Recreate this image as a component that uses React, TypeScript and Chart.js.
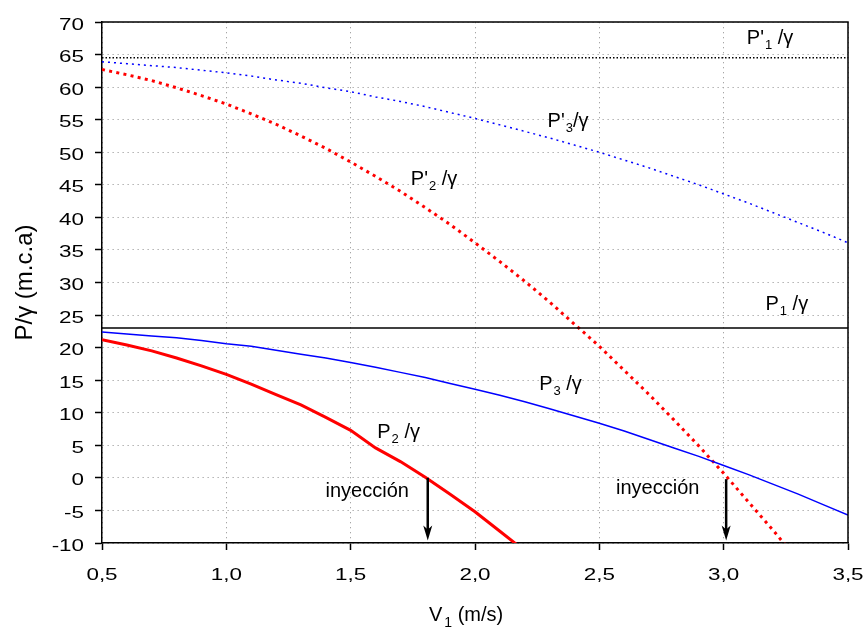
import { useEffect, useRef } from "react";
import { Chart, registerables } from "chart.js";

Chart.register(...registerables);

// Velocity V1 (m/s)
const V = [0.5, 0.6, 0.7, 0.8, 0.9, 1.0, 1.1, 1.2, 1.3, 1.4, 1.5, 1.6, 1.7, 1.8, 1.9, 2.0, 2.1, 2.2, 2.3, 2.4, 2.5, 2.6, 2.7, 2.8, 2.9, 3.0, 3.1, 3.2, 3.3, 3.4, 3.5];

// P3/γ (solid blue)
const P3 = [22.4, 22.1, 21.8, 21.5, 21.1, 20.6, 20.2, 19.6, 19.0, 18.4, 17.7, 17.0, 16.2, 15.4, 14.5, 13.6, 12.7, 11.7, 10.6, 9.5, 8.4, 7.2, 5.9, 4.6, 3.3, 1.9, 0.5, -1.0, -2.5, -4.1, -5.7];
// P'3/γ (dotted blue)
const P3_PRIME = [63.9, 63.6, 63.3, 63.0, 62.6, 62.2, 61.7, 61.1, 60.6, 59.9, 59.3, 58.5, 57.8, 57.0, 56.1, 55.2, 54.2, 53.2, 52.2, 51.1, 50.0, 48.8, 47.6, 46.3, 45.0, 43.6, 42.2, 40.7, 39.2, 37.7, 36.1];
// P'2/γ (dotted red)
const P2_PRIME = [62.7, 61.9, 61.0, 59.9, 58.7, 57.4, 55.9, 54.3, 52.5, 50.6, 48.5, 46.3, 44.0, 41.5, 38.9, 36.1, 33.2, 30.2, 27.0, 23.6, 20.2, 16.5, 12.8, 8.9, 4.9, 0.7, -3.7, -8.1, -12.7, null, null];
// P2/γ (solid red)
const P2 = [21.2, 20.4, 19.5, 18.4, 17.2, 15.9, 14.4, 12.8, 11.2, 9.3, 7.3, 4.6, 2.5, 0.1, -2.5, -5.2, -8.2, -11.2, null, null, null, null, null, null, null, null, null, null, null, null, null];

// Horizontal lines
const X_ENDS = [0.5, 3.5];
const P1 = [23, 23];
const P1_PRIME = [64.5, 64.5];

// Axis ranges
const X_MIN = 0.5, X_MAX = 3.5, X_STEP = 0.5;
const Y_MIN = -10, Y_MAX = 70, Y_STEP = 5;

// Curve labels (anchor in data coordinates: left edge, baseline)
const LABELS = [
  { main: "P'", sub: "1", tail: " /γ", x: 3.093, y: 66.65 },
  { main: "P'", sub: "3", tail: "/γ", x: 2.292, y: 53.9 },
  { main: "P'", sub: "2", tail: " /γ", x: 1.742, y: 44.9 },
  { main: "P", sub: "1", tail: " /γ", x: 3.168, y: 25.8 },
  { main: "P", sub: "3", tail: " /γ", x: 2.258, y: 13.5 },
  { main: "P", sub: "2", tail: " /γ", x: 1.607, y: 6.1 },
  { main: "inyección", sub: "", tail: "", x: 1.399, y: -2.9 },
  { main: "inyección", sub: "", tail: "", x: 2.567, y: -2.4 },
];

// Injection arrows (x, top value, tip value)
const ARROW_X = [1.81, 3.01];
const ARROW_TOP = [0.0, -0.2];
const ARROW_TIP = [-9.6, -9.6];

const pts = (xs: number[], ys: (number | null)[]) => xs.map((x, i) => ({ x, y: ys[i] }));

const fmtX = (v: number) => Number(v).toFixed(1).replace(".", ",");
const fmtY = (v: number) => String(Math.round(Number(v)));

const LABEL_FONT = '20px "Liberation Sans", Arial, sans-serif';
const SUB_FONT = '13px "Liberation Sans", Arial, sans-serif';
const TICK_FONT = '16px "Liberation Sans", Arial, sans-serif';
const TICK_STRETCH = 1.4;

const decorations = {
  id: "decorations",
  afterDatasetsDraw(chart: any) {
    const { ctx, scales } = chart;
    const xs = scales.x, ys = scales.y;
    ctx.save();
    // arrows
    for (let i = 0; i < ARROW_X.length; i++) {
      const px = xs.getPixelForValue(ARROW_X[i]);
      const y0 = ys.getPixelForValue(ARROW_TOP[i]);
      const y1 = ys.getPixelForValue(ARROW_TIP[i]);
      ctx.strokeStyle = "#000";
      ctx.lineWidth = 2.5;
      ctx.beginPath();
      ctx.moveTo(px, y0);
      ctx.lineTo(px, y1 - 10);
      ctx.stroke();
      ctx.fillStyle = "#000";
      ctx.beginPath();
      ctx.moveTo(px, y1);
      ctx.lineTo(px - 4.5, y1 - 15);
      ctx.lineTo(px, y1 - 11);
      ctx.lineTo(px + 4.5, y1 - 15);
      ctx.closePath();
      ctx.fill();
    }
    // labels
    ctx.fillStyle = "#000";
    ctx.textAlign = "left";
    ctx.textBaseline = "alphabetic";
    for (const l of LABELS) {
      let px = xs.getPixelForValue(l.x);
      const py = ys.getPixelForValue(l.y);
      ctx.font = LABEL_FONT;
      ctx.fillText(l.main, px, py);
      px += ctx.measureText(l.main).width;
      if (l.sub) {
        ctx.font = SUB_FONT;
        ctx.fillText(l.sub, px + 1, py + 5);
        px += ctx.measureText(l.sub).width + 1;
      }
      if (l.tail) {
        ctx.font = LABEL_FONT;
        ctx.fillText(l.tail, px, py);
      }
    }
    ctx.restore();
  },
  afterDraw(chart: any) {
    const { ctx, chartArea, scales } = chart;
    ctx.save();
    // frame top/right
    ctx.strokeStyle = "#000";
    ctx.lineWidth = 1.5;
    ctx.beginPath();
    ctx.moveTo(chartArea.left, chartArea.top);
    ctx.lineTo(chartArea.right, chartArea.top);
    ctx.lineTo(chartArea.right, chartArea.bottom);
    ctx.stroke();

    // tick labels (wide face, from the scales' own ticks)
    ctx.fillStyle = "#000";
    ctx.font = TICK_FONT;
    ctx.textBaseline = "alphabetic";
    for (const t of scales.y.ticks) {
      const py = scales.y.getPixelForValue(t.value);
      ctx.save();
      ctx.translate(chartArea.left - 18, py + 7.5);
      ctx.scale(TICK_STRETCH, 1);
      ctx.textAlign = "right";
      ctx.fillText(fmtY(t.value), 0, 0);
      ctx.restore();
    }
    for (const t of scales.x.ticks) {
      const px = scales.x.getPixelForValue(t.value);
      ctx.save();
      ctx.translate(px, chartArea.bottom + 36.5);
      ctx.scale(TICK_STRETCH, 1);
      ctx.textAlign = "center";
      ctx.fillText(fmtX(t.value), 0, 0);
      ctx.restore();
    }

    // y title
    ctx.save();
    ctx.translate(32, (chartArea.top + chartArea.bottom) / 2);
    ctx.rotate(-Math.PI / 2);
    ctx.textAlign = "center";
    ctx.textBaseline = "alphabetic";
    ctx.font = '24px "Liberation Sans", Arial, sans-serif';
    ctx.fillText("P/γ (m.c.a)", 0, 0);
    ctx.restore();
    // x title
    ctx.textAlign = "left";
    ctx.textBaseline = "alphabetic";
    let tx = chartArea.left + 327;
    const ty = chartArea.bottom + 78;
    ctx.font = '20px "Liberation Sans", Arial, sans-serif';
    ctx.fillText("V", tx, ty);
    tx += ctx.measureText("V").width;
    ctx.font = '14px "Liberation Sans", Arial, sans-serif';
    ctx.fillText("1", tx + 2, ty + 6);
    tx += ctx.measureText("1").width + 2;
    ctx.font = '20px "Liberation Sans", Arial, sans-serif';
    ctx.fillText(" (m/s)", tx, ty);
    ctx.restore();
  },
};

export default function App() {
  const ref = useRef<HTMLCanvasElement | null>(null);
  useEffect(() => {
    if (!ref.current) return;
    const gridOpts = { color: "#a6a6a6", lineWidth: 1, tickLength: 7, tickColor: "#000", tickWidth: 1.5 };
    const borderOpts = { color: "#000", width: 1.5, dash: [1.3, 3.7] };
    const chart = new Chart(ref.current, {
      type: "line",
      data: {
        datasets: [
          { label: "P'1", data: pts(X_ENDS, P1_PRIME), borderColor: "#000", borderWidth: 1.5, borderDash: [1.5, 2], pointRadius: 0, clip: 0 },
          { label: "P1", data: pts(X_ENDS, P1), borderColor: "#000", borderWidth: 1.5, pointRadius: 0, clip: 0 },
          { label: "P'3", data: pts(V, P3_PRIME), borderColor: "#0000ff", borderWidth: 1.5, borderDash: [2, 4], pointRadius: 0, clip: 0 },
          { label: "P3", data: pts(V, P3), borderColor: "#0000ff", borderWidth: 1.5, pointRadius: 0, clip: 0 },
          { label: "P'2", data: pts(V, P2_PRIME), borderColor: "#ff0000", borderWidth: 3, borderDash: [3, 4.3], pointRadius: 0, clip: 0, spanGaps: false },
          { label: "P2", data: pts(V, P2), borderColor: "#ff0000", borderWidth: 3, pointRadius: 0, clip: 0, spanGaps: false },
        ] as any,
      },
      options: {
        animation: false,
        responsive: true,
        maintainAspectRatio: false,
        events: [],
        layout: { padding: { left: 0, top: 22, right: 18, bottom: 0 } },
        plugins: { legend: { display: false }, tooltip: { enabled: false }, title: { display: false } },
        elements: { line: { tension: 0, fill: false } },
        scales: {
          x: {
            type: "linear",
            min: X_MIN,
            max: X_MAX,
            ticks: { stepSize: X_STEP, display: false, maxRotation: 0 },
            grid: gridOpts,
            border: borderOpts,
            afterFit: (s: any) => { s.height = 89; },
          },
          y: {
            type: "linear",
            min: Y_MIN,
            max: Y_MAX,
            ticks: { stepSize: Y_STEP, display: false },
            grid: gridOpts,
            border: borderOpts,
            afterFit: (s: any) => { s.width = 102; },
          },
        },
      } as any,
      plugins: [decorations],
    });
    return () => chart.destroy();
  }, []);
  return (
    <div style={{ position: "absolute", left: 0, top: 0, width: 866, height: 632, background: "#fff" }}>
      <canvas ref={ref} />
    </div>
  );
}
